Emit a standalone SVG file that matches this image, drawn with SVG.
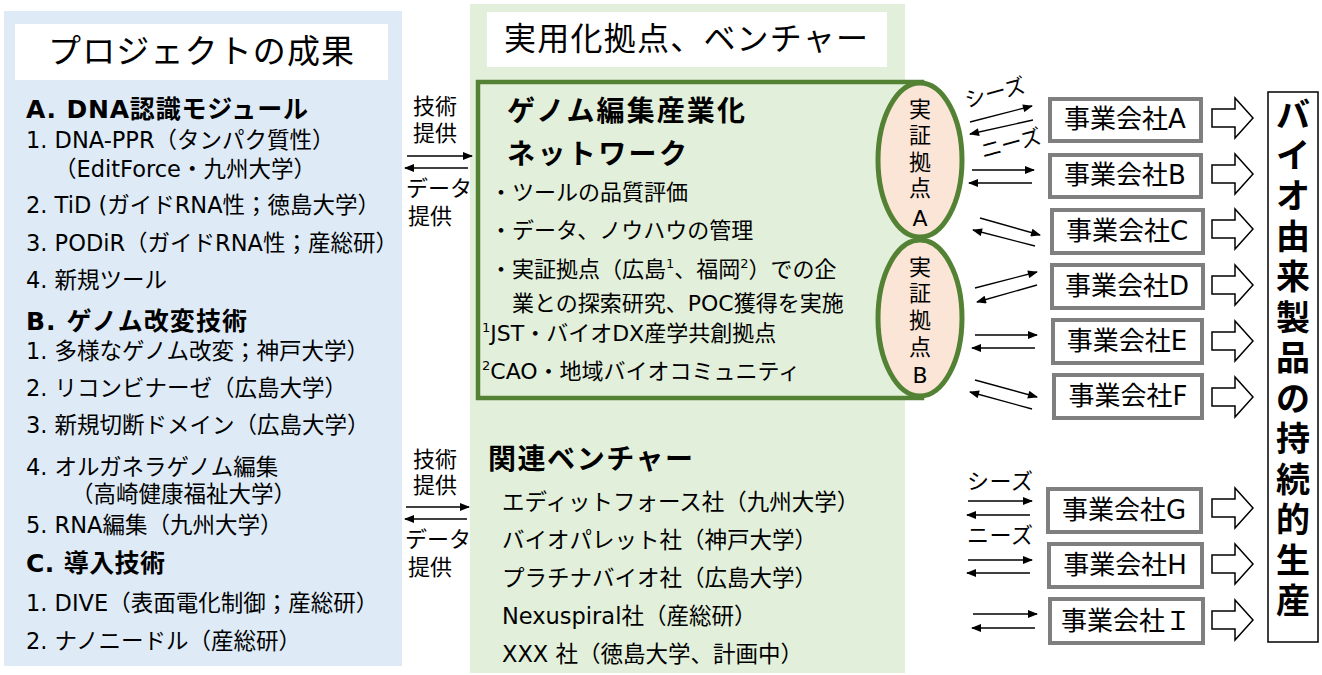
<svg xmlns="http://www.w3.org/2000/svg" width="1322" height="675" viewBox="0 0 1322 675">
<style>
.t{font-family:'DejaVu Sans','Noto Sans CJK JP',sans-serif;fill:#000}
.b{font-weight:bold}
.s21{font-size:21px}
.s22{font-size:22px}
.lp{font-size:22.5px}
.ln{stroke:#000;stroke-width:1.3;fill:none;marker-end:url(#ah)}
.co rect{fill:#fff;stroke:#7f7f7f;stroke-width:4}
.co text{font-size:26px;text-anchor:middle}
.blk{fill:#fff;stroke:#000;stroke-width:1.5}
.el{fill:#fbe5d6;stroke:#548235;stroke-width:5}
.et{font-size:22px;text-anchor:middle}
</style>
<defs>
<marker id="ah" viewBox="0 0 10 8" refX="9" refY="4" markerWidth="11" markerHeight="8" markerUnits="userSpaceOnUse" orient="auto"><path d="M0,0 L10,4 L0,8 z" fill="#000"/></marker>
</defs>
<rect width="1322" height="675" fill="#fff"/>

<g id="results">
<rect x="4" y="11" width="398" height="655" fill="#deebf7"/>
<rect x="15" y="24" width="373" height="56" fill="#fff"/>
<text class="t" x="201" y="63" font-size="33" text-anchor="middle" textLength="306">プロジェクトの成果</text>
<text class="t b" x="26" y="118" font-size="25" textLength="282">A. DNA認識モジュール</text>
<text class="t lp" x="26" y="148">1. DNA-PPR（タンパク質性）</text>
<text class="t lp" x="54" y="177">（EditForce・九州大学）</text>
<text class="t lp" x="26" y="213">2. TiD (ガイドRNA性；徳島大学）</text>
<text class="t lp" x="26" y="251">3. PODiR（ガイドRNA性；産総研）</text>
<text class="t lp" x="26" y="288">4. 新規ツール</text>
<text class="t b" x="26" y="330" font-size="25" textLength="221">B. ゲノム改変技術</text>
<text class="t lp" x="26" y="359">1. 多様なゲノム改変；神戸大学）</text>
<text class="t lp" x="26" y="396">2. リコンビナーゼ（広島大学）</text>
<text class="t lp" x="26" y="433">3. 新規切断ドメイン（広島大学）</text>
<text class="t lp" x="26" y="475">4. オルガネラゲノム編集</text>
<text class="t lp" x="71" y="502">（高崎健康福祉大学）</text>
<text class="t lp" x="26" y="533">5. RNA編集（九州大学）</text>
<text class="t b" x="26" y="572" font-size="25" textLength="139">C. 導入技術</text>
<text class="t lp" x="26" y="611">1. DIVE（表面電化制御；産総研）</text>
<text class="t lp" x="26" y="649">2. ナノニードル（産総研）</text>
</g>

<g id="practical">
<rect x="470" y="4" width="435" height="669" fill="#e2efda"/>
<rect x="487" y="12" width="400" height="55" fill="#fff"/>
<text class="t" x="686" y="50" font-size="32" text-anchor="middle" textLength="364">実用化拠点、ベンチャー</text>
</g>

<g id="network">
<rect x="478" y="82" width="444" height="316" fill="#e2efda" stroke="#548235" stroke-width="4.5"/>
<text class="t b" x="507" y="121" font-size="28" textLength="238">ゲノム編集産業化</text>
<text class="t b" x="507" y="164" font-size="28" textLength="180">ネットワーク</text>
<text class="t s22" x="490" y="200">・ツールの品質評価</text>
<text class="t s22" x="490" y="238">・データ、ノウハウの管理</text>
<text class="t s22" x="490" y="277">・実証拠点（広島<tspan font-size="13" dy="-9">1</tspan><tspan dy="9">、福岡</tspan><tspan font-size="13" dy="-9">2</tspan><tspan dy="9">）での企</tspan></text>
<text class="t s22" x="512" y="311">業との探索研究、POC獲得を実施</text>
<text class="t s22" x="482" y="341"><tspan font-size="13" dy="-9">1</tspan><tspan dy="9">JST・バイオDX産学共創拠点</tspan></text>
<text class="t s22" x="482" y="379"><tspan font-size="13" dy="-9">2</tspan><tspan dy="9">CAO・地域バイオコミュニティ</tspan></text>
</g>

<g id="siteA">
<ellipse class="el" cx="920" cy="160" rx="42" ry="77"/>
<text class="t et" x="920" y="117">実</text>
<text class="t et" x="920" y="143">証</text>
<text class="t et" x="920" y="170">拠</text>
<text class="t et" x="920" y="196">点</text>
<text class="t et" x="920" y="226">A</text>
</g>
<g id="siteB">
<ellipse class="el" cx="920" cy="318" rx="42" ry="78"/>
<text class="t et" x="920" y="275">実</text>
<text class="t et" x="920" y="301">証</text>
<text class="t et" x="920" y="328">拠</text>
<text class="t et" x="920" y="355">点</text>
<text class="t et" x="920" y="383">B</text>
</g>

<g id="ventures">
<text class="t b" x="488" y="469" font-size="28" textLength="205">関連ベンチャー</text>
<text class="t" x="502" y="510" font-size="22.5">エディットフォース社（九州大学）</text>
<text class="t" x="502" y="548" font-size="22.5">バイオパレット社（神戸大学）</text>
<text class="t" x="502" y="586" font-size="22.5">プラチナバイオ社（広島大学）</text>
<text class="t" x="502" y="624" font-size="22.5">Nexuspiral社（産総研）</text>
<text class="t" x="502" y="662" font-size="22.5">XXX 社（徳島大学、計画中）</text>
</g>

<g id="companyA" class="co"><rect x="1050" y="99" width="151" height="42"/><text class="t" x="1125" y="128">事業会社A</text></g>
<g id="companyB" class="co"><rect x="1050" y="155" width="151" height="42"/><text class="t" x="1125" y="184">事業会社B</text></g>
<g id="companyC" class="co"><rect x="1052" y="210" width="151" height="43"/><text class="t" x="1127" y="240">事業会社C</text></g>
<g id="companyD" class="co"><rect x="1052" y="265" width="151" height="43"/><text class="t" x="1127" y="295">事業会社D</text></g>
<g id="companyE" class="co"><rect x="1053" y="320" width="149" height="43"/><text class="t" x="1127" y="350">事業会社E</text></g>
<g id="companyF" class="co"><rect x="1054" y="375" width="148" height="43"/><text class="t" x="1128" y="405">事業会社F</text></g>
<g id="companyG" class="co"><rect x="1048" y="489" width="153" height="43"/><text class="t" x="1124" y="519">事業会社G</text></g>
<g id="companyH" class="co"><rect x="1049" y="544" width="153" height="43"/><text class="t" x="1125" y="574">事業会社H</text></g>
<g id="companyI" class="co"><rect x="1050" y="599" width="153" height="44"/><text class="t" x="1126" y="630">事業会社Ｉ</text></g>

<g id="product">
<rect x="1268" y="92" width="50" height="550" fill="#fff" stroke="#000" stroke-width="1.5"/>
<g class="t b" font-size="34" text-anchor="middle">
<text x="1293" y="127">バ</text>
<text x="1293" y="168">イ</text>
<text x="1293" y="208">オ</text>
<text x="1293" y="249">由</text>
<text x="1293" y="289">来</text>
<text x="1293" y="330">製</text>
<text x="1293" y="370">品</text>
<text x="1293" y="411">の</text>
<text x="1293" y="451">持</text>
<text x="1293" y="492">続</text>
<text x="1293" y="532">的</text>
<text x="1293" y="573">生</text>
<text x="1293" y="613">産</text>
</g>
</g>

<g id="connectors">
<path class="ln" d="M407,156 H472"/>
<path class="ln" d="M468,168 H405"/>
<path class="ln" d="M406,507 H469"/>
<path class="ln" d="M467,519 H405"/>
<path class="ln" d="M970,122 L1032,106"/>
<path class="ln" d="M1033,120 L970,134"/>
<path class="ln" d="M972,170 L1034,170"/>
<path class="ln" d="M1032,183 L969,183"/>
<path class="ln" d="M980,218 L1040,235"/>
<path class="ln" d="M1035,246 L973,230"/>
<path class="ln" d="M975,288 L1037,272"/>
<path class="ln" d="M1037,285 L977,302"/>
<path class="ln" d="M975,335 L1037,335"/>
<path class="ln" d="M1035,348 L972,348"/>
<path class="ln" d="M975,380 L1037,397"/>
<path class="ln" d="M1032,409 L970,392"/>
<path class="ln" d="M968,501 H1032"/>
<path class="ln" d="M1030,515 H967"/>
<path class="ln" d="M968,560 H1032"/>
<path class="ln" d="M1030,573 H967"/>
<path class="ln" d="M973,614 H1037"/>
<path class="ln" d="M1035,628 H972"/>
<path class="blk" d="M1212,109 H1235 V98 L1253,118 L1235,138 V127 H1212 Z"/>
<path class="blk" d="M1212,165 H1235 V154 L1253,174 L1235,194 V183 H1212 Z"/>
<path class="blk" d="M1212,220 H1235 V209 L1253,229 L1235,249 V238 H1212 Z"/>
<path class="blk" d="M1212,276 H1235 V265 L1253,285 L1235,305 V294 H1212 Z"/>
<path class="blk" d="M1212,332 H1235 V321 L1253,341 L1235,361 V350 H1212 Z"/>
<path class="blk" d="M1212,388 H1235 V377 L1253,397 L1235,417 V406 H1212 Z"/>
<path class="blk" d="M1212,499 H1235 V488 L1253,508 L1235,528 V517 H1212 Z"/>
<path class="blk" d="M1212,555 H1235 V544 L1253,564 L1235,584 V573 H1212 Z"/>
<path class="blk" d="M1212,611 H1235 V600 L1253,620 L1235,640 V629 H1212 Z"/>
</g>

<g id="labels">
<text class="t s22" x="413" y="114">技術</text>
<text class="t s22" x="413" y="141">提供</text>
<text class="t s22" x="406" y="196">データ</text>
<text class="t s22" x="408" y="224">提供</text>
<text class="t s22" x="413" y="467">技術</text>
<text class="t s22" x="413" y="493">提供</text>
<text class="t s22" x="405" y="547">データ</text>
<text class="t s22" x="408" y="575">提供</text>
<text class="t s21" transform="translate(995,93) rotate(-15)" x="0" y="7" text-anchor="middle">シーズ</text>
<text class="t s21" transform="translate(1011,144) rotate(-15)" x="0" y="7" text-anchor="middle">ニーズ</text>
<text class="t s22" x="967" y="489" textLength="66">シーズ</text>
<text class="t s22" x="967" y="543" textLength="66">ニーズ</text>
</g>
</svg>
